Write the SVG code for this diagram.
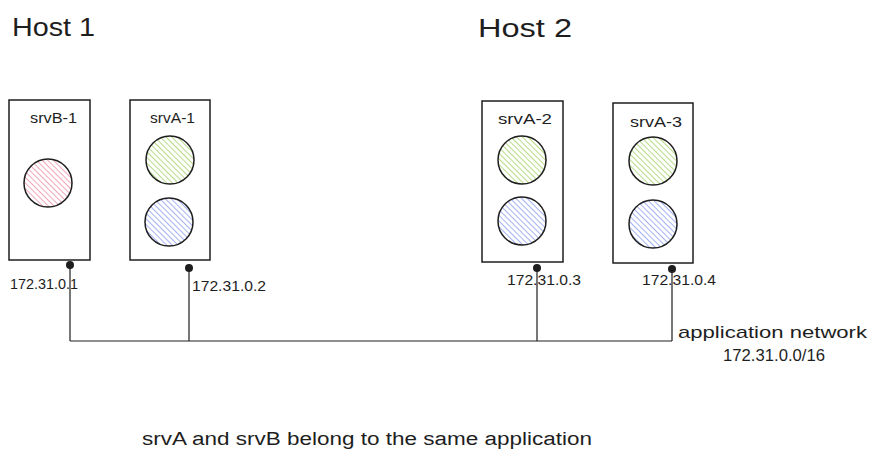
<svg xmlns="http://www.w3.org/2000/svg" width="877" height="465" viewBox="0 0 877 465">
<defs>
<pattern id="hRed" patternUnits="userSpaceOnUse" width="4" height="4" patternTransform="rotate(-45)"><rect width="4" height="4" fill="#fff"/><line x1="0" y1="0" x2="0" y2="4" stroke="#ef8fa8" stroke-width="1.6"/></pattern>
<pattern id="hGreen" patternUnits="userSpaceOnUse" width="4" height="4" patternTransform="rotate(-45)"><rect width="4" height="4" fill="#fff"/><line x1="0" y1="0" x2="0" y2="4" stroke="#a3d36a" stroke-width="1.6"/></pattern>
<pattern id="hBlue" patternUnits="userSpaceOnUse" width="4" height="4" patternTransform="rotate(-45)"><rect width="4" height="4" fill="#fff"/><line x1="0" y1="0" x2="0" y2="4" stroke="#8c9ef0" stroke-width="1.6"/></pattern>
</defs>
<style>
text{font-family:"Liberation Sans",Arial,sans-serif;fill:#1e1e1e}
.box{fill:#fff;stroke:#1e1e1e;stroke-width:1.5}
.c{stroke:#1e1e1e;stroke-width:1.5}
.lbl{font-size:14px}
.ip{font-size:14px}
.ln{stroke:#1e1e1e;stroke-width:1.2;fill:none}
.dot{fill:#1e1e1e}
</style>
<rect width="877" height="465" fill="#fff"/>
<text x="12" y="36" font-size="26" textLength="83" lengthAdjust="spacingAndGlyphs">Host 1</text>
<text x="478" y="37" font-size="26" textLength="94" lengthAdjust="spacingAndGlyphs">Host 2</text>
<g id="srvB-1">
<rect class="box" x="9" y="100" width="81" height="160"/>
<text class="lbl" x="30" y="123" textLength="47" lengthAdjust="spacingAndGlyphs">srvB-1</text>
<circle class="c" cx="48" cy="183" r="24" fill="url(#hRed)"/>
</g>
<g id="srvA-1">
<rect class="box" x="130" y="100" width="80" height="160"/>
<text class="lbl" x="150" y="123" textLength="45" lengthAdjust="spacingAndGlyphs">srvA-1</text>
<circle class="c" cx="170" cy="160" r="24" fill="url(#hGreen)"/>
<circle class="c" cx="169" cy="222" r="24" fill="url(#hBlue)"/>
</g>
<g id="srvA-2">
<rect class="box" x="482" y="101" width="81" height="161"/>
<text class="lbl" x="498" y="124" textLength="54" lengthAdjust="spacingAndGlyphs">srvA-2</text>
<circle class="c" cx="522" cy="160" r="24" fill="url(#hGreen)"/>
<circle class="c" cx="522" cy="221" r="24" fill="url(#hBlue)"/>
</g>
<g id="srvA-3">
<rect class="box" x="613" y="103" width="80" height="160"/>
<text class="lbl" x="630" y="127" textLength="52" lengthAdjust="spacingAndGlyphs">srvA-3</text>
<circle class="c" cx="653" cy="161" r="24" fill="url(#hGreen)"/>
<circle class="c" cx="653" cy="224" r="24" fill="url(#hBlue)"/>
</g>
<g id="connectors">
<path class="ln" d="M70 265 V341 M189 268 V341 M537 268 V341 M672 269 V341 M70 341 H672"/>
<circle class="dot" cx="70" cy="265" r="4"/>
<circle class="dot" cx="189" cy="268" r="4"/>
<circle class="dot" cx="537" cy="268" r="4"/>
<circle class="dot" cx="672" cy="269" r="4"/>
</g>
<text class="ip" x="10" y="289" textLength="68" lengthAdjust="spacingAndGlyphs">172.31.0.1</text>
<text class="ip" x="192" y="291" textLength="74" lengthAdjust="spacingAndGlyphs">172.31.0.2</text>
<text class="ip" x="507" y="285" textLength="74" lengthAdjust="spacingAndGlyphs">172.31.0.3</text>
<text class="ip" x="642" y="285" textLength="74" lengthAdjust="spacingAndGlyphs">172.31.0.4</text>
<text x="678" y="338" font-size="17" textLength="189" lengthAdjust="spacingAndGlyphs">application network</text>
<text x="723" y="361" font-size="17" textLength="102" lengthAdjust="spacingAndGlyphs">172.31.0.0/16</text>
<text x="142" y="445" font-size="18" textLength="450" lengthAdjust="spacingAndGlyphs">srvA and srvB belong to the same application</text>
</svg>
